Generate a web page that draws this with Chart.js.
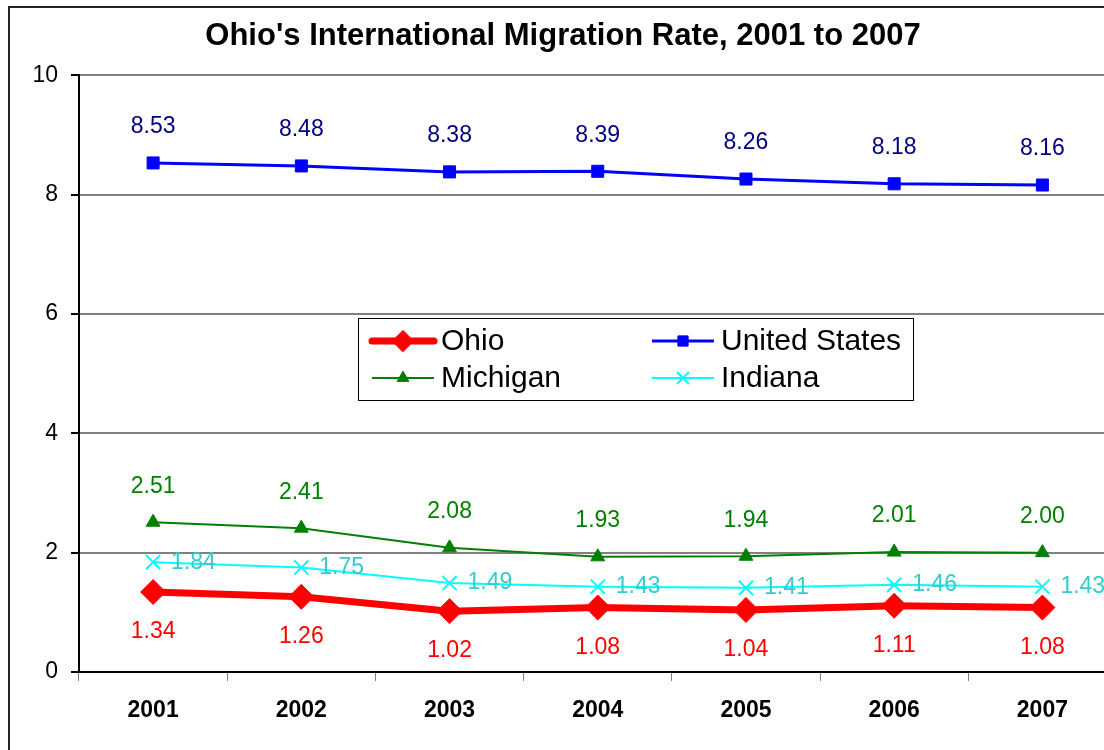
<!DOCTYPE html>
<html>
<head>
<meta charset="utf-8">
<script src="https://cdn.jsdelivr.net/npm/chart.js@4/dist/chart.umd.min.js"></script>
<style>
  html, body { margin:0; padding:0; background:#fff; overflow:hidden; }
  #wrap { position:relative; width:1104px; height:750px; overflow:hidden; }
  #frame { position:absolute; left:8px; top:6px; width:1110px; height:760px; border-left:2px solid #222; border-top:2px solid #222; box-sizing:border-box; pointer-events:none; }
  #box { position:absolute; left:0; top:0; width:1130px; height:750px; }
</style>
</head>
<body>
<div id="wrap">
  <div id="box"><canvas id="c"></canvas></div>
  <div id="frame"></div>
</div>
<script>
/* ═══ DATA ═══════════════════════════════════════════ */
const YEARS    = ['2001','2002','2003','2004','2005','2006','2007'];
const OHIO     = [1.34, 1.26, 1.02, 1.08, 1.04, 1.11, 1.08];
const US       = [8.53, 8.48, 8.38, 8.39, 8.26, 8.18, 8.16];
const MICHIGAN = [2.51, 2.41, 2.08, 1.93, 1.94, 2.01, 2.00];
const INDIANA  = [1.84, 1.75, 1.49, 1.43, 1.41, 1.46, 1.43];
const Y_TICKS  = [0, 2, 4, 6, 8, 10];

const FONT = 'Liberation Sans, Arial, sans-serif';

// label placement per dataset: where the value goes relative to the point
const LBL = {
  'Ohio':          {pos:'below', color:'#FF0000'},
  'United States': {pos:'above', color:'#000080'},
  'Michigan':      {pos:'above', color:'#008000'},
  'Indiana':       {pos:'right', color:'#33CCCC'}
};

const valueLabels = {
  id:'valueLabels',
  afterDatasetsDraw(chart) {
    const ctx = chart.ctx;
    ctx.save();
    ctx.font = '23px ' + FONT;
    chart.data.datasets.forEach((ds, i) => {
      const meta = chart.getDatasetMeta(i);
      const cfg = LBL[ds.label];
      meta.data.forEach((pt, j) => {
        const txt = ds.data[j].toFixed(2);
        ctx.fillStyle = cfg.color;
        if (cfg.pos === 'above') {
          ctx.textAlign = 'center'; ctx.textBaseline = 'middle';
          ctx.fillText(txt, pt.x, pt.y - 36);
        } else if (cfg.pos === 'below') {
          ctx.textAlign = 'center'; ctx.textBaseline = 'middle';
          ctx.fillText(txt, pt.x, pt.y + 40);
        } else {
          ctx.textAlign = 'left'; ctx.textBaseline = 'middle';
          ctx.fillText(txt, pt.x + 18, pt.y);
        }
      });
    });
    ctx.restore();
  }
};

// legend box drawn inside the plot, two columns
const boxLegend = {
  id:'boxLegend',
  afterDraw(chart) {
    const ctx = chart.ctx;
    const L = 358, T = 318, W = 555, H = 82;
    ctx.save();
    ctx.fillStyle = '#fff';
    ctx.fillRect(L, T, W, H);
    ctx.strokeStyle = '#000'; ctx.lineWidth = 1;
    ctx.strokeRect(L + 0.5, T + 0.5, W, H);
    const slots = [[0, 372, 341], [1, 652, 341], [2, 372, 378], [3, 652, 378]];
    slots.forEach(([i, x, y]) => {
      const ds = chart.data.datasets[i];
      ctx.strokeStyle = ds.borderColor;
      ctx.lineWidth = ds.borderWidth;
      ctx.lineCap = i === 0 ? 'round' : 'butt';
      ctx.beginPath(); ctx.moveTo(x, y); ctx.lineTo(x + 62, y); ctx.stroke();
      ctx.fillStyle = ds.pointBackgroundColor;
      ctx.strokeStyle = ds.pointBorderColor;
      ctx.lineWidth = ds.pointBorderWidth;
      Chart.helpers.drawPoint(ctx, {
        pointStyle: ds.pointStyle, radius: ds.pointRadius * 0.85, borderWidth: ds.pointBorderWidth
      }, x + 31, y);
      ctx.fillStyle = '#000';
      ctx.font = '30px ' + FONT;
      ctx.textAlign = 'left'; ctx.textBaseline = 'middle';
      ctx.fillText(ds.label, x + 69, y + 1);
    });
    ctx.restore();
  }
};

function series(label, data, color, width, style, radius) {
  return {
    label, data,
    borderColor: color, backgroundColor: color,
    borderWidth: width,
    pointStyle: style, pointRadius: radius, pointHoverRadius: radius,
    pointBackgroundColor: color, pointBorderColor: color,
    pointBorderWidth: style === 'crossRot' ? 2 : 1,
    tension: 0
  };
}

const datasets = [
  series('Ohio', OHIO, '#FF0000', 7, 'rectRot', 12.5),
  series('United States', US, '#0000FF', 3, 'rect', 8.5),
  series('Michigan', MICHIGAN, '#008000', 2, 'triangle', 8),
  series('Indiana', INDIANA, '#00FFFF', 2, 'crossRot', 10)
];
// draw order: Ohio on top
datasets.forEach((d, i) => d.order = i);

new Chart(document.getElementById('c'), {
  type:'line',
  data:{ labels:YEARS, datasets },
  options:{
    responsive:true, maintainAspectRatio:false, animation:false,
    layout:{ padding:{ left:0, right:4, top:0, bottom:0 } },
    plugins:{
      legend:{ display:false },
      tooltip:{ enabled:false },
      title:{ display:true, text:"Ohio's International Migration Rate, 2001 to 2007",
        font:{ family:FONT, size:31, weight:'bold' }, color:'#000',
        padding:{ top:18, bottom:20 } }
    },
    scales:{
      x:{
        offset:true,
        grid:{ offset:true, drawOnChartArea:false, drawTicks:true, tickLength:9, color:'#808080', tickColor:'#808080' },
        border:{ color:'#000', width:2 },
        ticks:{ font:{ family:FONT, size:23, weight:'bold' }, color:'#000', padding:16, maxRotation:0 },
        afterFit(s){ s.height = 78; }
      },
      y:{
        min:0, max:10,
        afterBuildTicks(s){ s.ticks = Y_TICKS.map(v => ({ value:v })); },
        grid:{ color:'#808080', lineWidth:2, tickLength:8, tickColor:'#000', drawTicks:true },
        border:{ color:'#000', width:2 },
        ticks:{ font:{ family:FONT, size:23 }, color:'#000', padding:13 },
        afterFit(s){ s.width = 79; }
      }
    }
  },
  plugins:[valueLabels, boxLegend]
});
</script>
</body>
</html>
